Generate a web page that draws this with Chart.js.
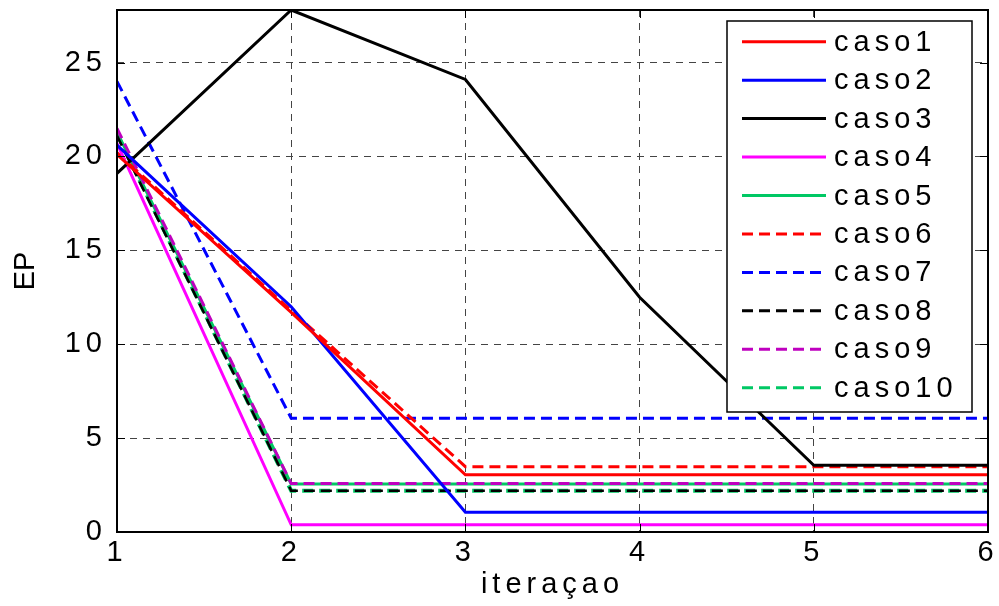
<!DOCTYPE html>
<html><head><meta charset="utf-8">
<script src="https://cdn.jsdelivr.net/npm/chart.js@4.4.0/dist/chart.umd.min.js"></script>
<style>html,body{margin:0;padding:0;background:#fff}#wrap{width:999px;height:606px;position:relative}</style>
</head><body><div id="wrap"><canvas id="c"></canvas></div>
<script>
// ---- data ----
const iterations = [1, 2, 3, 4, 5, 6];
const seriesNames = ['caso1','caso2','caso3','caso4','caso5','caso6','caso7','caso8','caso9','caso10'];
const caso1  = [20.1, 11.7, 3.05, 3.05, 3.05, 3.05];
const caso2  = [20.6, 12.0, 1.05, 1.05, 1.05, 1.05];
const caso3  = [19.1, 27.8, 24.1, 12.5, 3.55, 3.55];
const caso4  = [20.7, 0.38, 0.38, 0.38, 0.38, 0.38];
const caso5  = [21.3, 2.56, 2.56, 2.56, 2.56, 2.56];
const caso6  = [20.2, 11.8, 3.48, 3.48, 3.48, 3.48];
const caso7  = [24.0, 6.06, 6.06, 6.06, 6.06, 6.06];
const caso8  = [21.1, 2.20, 2.20, 2.20, 2.20, 2.20];
const caso9  = [21.5, 2.58, 2.58, 2.58, 2.58, 2.58];
const caso10 = [21.2, 2.20, 2.20, 2.20, 2.20, 2.20];
const seriesValues = [caso1, caso2, caso3, caso4, caso5, caso6, caso7, caso8, caso9, caso10];
const yTickStep = 5;
const yMin = 0, yMax = 27.8;
const xMin = 1, xMax = 6;
const xTitle = 'iteraçao';
const yTitle = 'EP';

// ---- styles ----
const colors = ['#ff0000','#0000ff','#000000','#ff00ff','#00c864','#ff0000','#0000ff','#000000','#bf00bf','#00c864'];
const dashed = [false,false,false,false,false,true,true,true,true,true];
const widths = [3,3,3,3,3,3,3,2.6,3,4];
const drawOrder = [0,1,2,3,9,5,6,7,4,8];
const DASH = [11, 6];
const FONT_FAMILY = '"Liberation Sans", Arial, Helvetica, sans-serif';
const FONT_SIZE = 29;
const LS = '5px';

const datasets = seriesNames.map((name, i) => ({
  label: name,
  data: iterations.map((x, k) => ({x: x, y: seriesValues[i][k]})),
  borderColor: colors[i],
  backgroundColor: colors[i],
  borderWidth: widths[i],
  borderDash: dashed[i] ? DASH : [],
  pointRadius: 0,
  tension: 0,
  fill: false,
  order: drawOrder[i]
}));

const spacingPlugin = {
  id: 'spacing',
  beforeUpdate(chart){ chart.ctx.letterSpacing = LS; },
  beforeLayout(chart){ chart.ctx.letterSpacing = LS; },
  beforeDraw(chart){ chart.ctx.letterSpacing = LS; }
};

const frameLegendPlugin = {
  id: 'frameLegend',
  afterDatasetsDraw(chart){
    const ctx = chart.ctx, a = chart.chartArea;
    const xs = chart.scales.x, ys = chart.scales.y;
    ctx.save();
    ctx.setLineDash([]);
    // inward tick marks
    ctx.strokeStyle = '#000'; ctx.lineWidth = 1;
    const tl = 8;
    xs.ticks.forEach(t => {
      const px = Math.round(xs.getPixelForValue(t.value)) + 0.5;
      ctx.beginPath(); ctx.moveTo(px, a.bottom); ctx.lineTo(px, a.bottom - tl); ctx.stroke();
      ctx.beginPath(); ctx.moveTo(px, a.top); ctx.lineTo(px, a.top + tl); ctx.stroke();
    });
    ys.ticks.forEach(t => {
      const py = Math.round(ys.getPixelForValue(t.value)) + 0.5;
      ctx.beginPath(); ctx.moveTo(a.left, py); ctx.lineTo(a.left + tl, py); ctx.stroke();
      ctx.beginPath(); ctx.moveTo(a.right, py); ctx.lineTo(a.right - tl, py); ctx.stroke();
    });
    // frame
    ctx.lineWidth = 2; ctx.strokeStyle = '#000';
    ctx.strokeRect(a.left, a.top, a.right - a.left, a.bottom - a.top);
    // legend
    const bx = a.right - 261, by = a.top + 11, bw = 245, bh = 391;
    ctx.fillStyle = '#fff';
    ctx.fillRect(bx, by, bw, bh);
    ctx.lineWidth = 1.5; ctx.strokeStyle = '#000';
    ctx.strokeRect(bx, by, bw, bh);
    ctx.font = FONT_SIZE + 'px ' + FONT_FAMILY;
    ctx.letterSpacing = LS;
    ctx.textBaseline = 'middle'; ctx.textAlign = 'left';
    const rowH = 38.45;
    chart.data.datasets.forEach((ds, i) => {
      const cy = by + 20.7 + i * rowH;
      ctx.strokeStyle = ds.borderColor;
      ctx.lineWidth = 3;
      ctx.setLineDash(ds.borderDash || []);
      ctx.beginPath(); ctx.moveTo(bx + 15, cy); ctx.lineTo(bx + 99, cy); ctx.stroke();
      ctx.setLineDash([]);
      ctx.fillStyle = '#000';
      ctx.fillText(ds.label, bx + 107, cy + 1);
    });
    // y axis title without letter spacing
    ctx.letterSpacing = '0px';
    ctx.translate(26, (a.top + a.bottom) / 2);
    ctx.rotate(-Math.PI / 2);
    ctx.textAlign = 'center'; ctx.textBaseline = 'middle';
    ctx.fillStyle = '#000';
    ctx.fillText(yTitle, 0, 0);
    ctx.restore();
  }
};

const font = {family: FONT_FAMILY, size: FONT_SIZE};
const gridCfg = {color: '#444', lineWidth: 1, drawTicks: false};

new Chart(document.getElementById('c'), {
  type: 'line',
  data: {datasets},
  plugins: [spacingPlugin, frameLegendPlugin],
  options: {
    responsive: true,
    maintainAspectRatio: false,
    animation: false,
    layout: {padding: {top: 10, right: 11, left: 0, bottom: 0}},
    plugins: {legend: {display: false}, tooltip: {enabled: false}},
    scales: {
      x: {
        type: 'linear', min: xMin, max: xMax,
        ticks: {stepSize: 1, color: '#000', font, padding: 4},
        grid: gridCfg,
        border: {display: false, dash: [7, 6]},
        title: {display: true, text: xTitle, color: '#000', font, padding: {top: 4, bottom: 4}},
        afterFit(s){ s.height = 74; s.paddingLeft = 0; s.paddingRight = 0; }
      },
      y: {
        type: 'linear', min: yMin, max: yMax,
        ticks: {stepSize: yTickStep, includeBounds: false, color: '#000', font, padding: 10},
        grid: gridCfg,
        border: {display: false, dash: [7, 6]},
        title: {display: false, text: yTitle},
        afterFit(s){ s.width = 117; s.paddingTop = 0; s.paddingBottom = 0; }
      }
    }
  }
});
</script>
</body></html>
